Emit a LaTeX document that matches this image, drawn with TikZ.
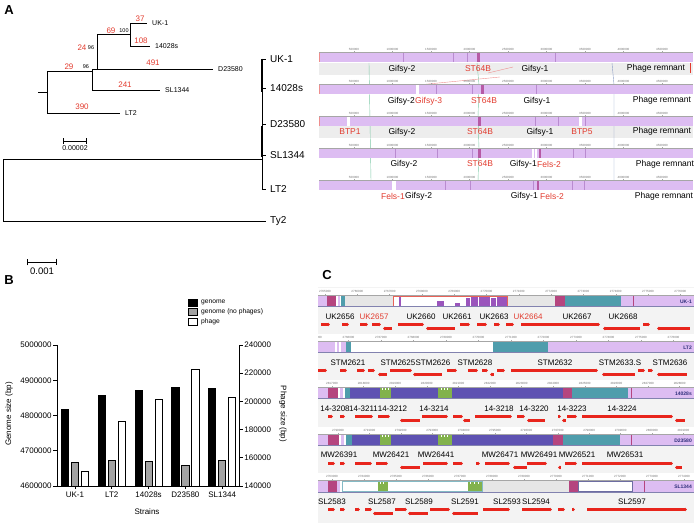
\documentclass[tikz,border=0pt]{standalone}
\usepackage{fontspec}
\setmainfont{Liberation Sans}
\usetikzlibrary{arrows.meta}
\definecolor{redtxt}{HTML}{E23B2E}
\definecolor{lpur}{HTML}{DDBDF2}
\definecolor{dpur}{HTML}{B98BD0}
\definecolor{stblock}{HTML}{B65AA5}
\definecolor{mag}{HTML}{B5457F}
\definecolor{cteal}{HTML}{4F9DAC}
\definecolor{bpur}{HTML}{5E52B2}
\definecolor{cgreen}{HTML}{82B24C}
\definecolor{hpur}{HTML}{9A55BC}
\definecolor{cgrey}{HTML}{E6E6E6}
\definecolor{cbg}{HTML}{F3F3F3}
\definecolor{bandgrey}{HTML}{EDEDED}
\definecolor{generd}{HTML}{E8251C}
\definecolor{navy}{HTML}{2E2E7A}
\definecolor{lcbgreen}{HTML}{7CC8A6}
\definecolor{lcbblue}{HTML}{8A9CC4}
\definecolor{pinkline}{HTML}{EE8E8E}
\definecolor{nophage}{HTML}{A3A3A3}

\begin{document}
\begin{tikzpicture}[
    x=1pt, y=-1pt,
    branch/.style={draw, line width=0.9pt},
    ileaf/.style={anchor=west, inner xsep=5pt, inner ysep=0pt, font=\fontsize{7}{8}\selectfont},
    mleaf/.style={anchor=west, inner xsep=4pt, inner ysep=0pt, font=\fontsize{10}{12}\selectfont},
    blen/.style={text=redtxt, inner sep=0pt, font=\fontsize{8}{9}\selectfont},
    boot/.style={inner sep=0pt, font=\fontsize{5.5}{6}\selectfont},
    panel/.style={inner sep=0pt, font=\fontsize{13}{14}\selectfont\bfseries},
    rulelab/.style={inner sep=0pt, text=black!55, font=\fontsize{3}{3}\selectfont},
    rtick/.style={draw=black!35, line width=0.3pt},
    phage/.style={inner sep=0pt, font=\fontsize{8.5}{9}\selectfont},
    newphage/.style={phage, text=redtxt},
    genelab/.style={inner sep=0pt, font=\fontsize{8}{9}\selectfont},
    fwd/.style={draw=generd, line width=2.2pt, -{Triangle[length=2pt, width=3.4pt]}},
    rev/.style={draw=generd, line width=2.2pt, {Triangle[length=2pt, width=3.4pt]}-},
    strain/.style={anchor=east, inner sep=0pt, text=navy, font=\fontsize{5}{5}\selectfont\bfseries},
    axlab/.style={inner sep=0pt, font=\fontsize{8}{9}\selectfont},
    bar/.style={draw, line width=0.8pt},
    lcb/.style={line width=0.4pt}
]
\useasboundingbox (0,0) rectangle (699,526);

% Panel letters
\node[panel] (pA) at (9,10) {A};
\node[panel] (pB) at (9,280) {B};
\node[panel] (pC) at (327,275) {C};

% Inset tree
\coordinate (i0) at (38,92);
\coordinate (i1) at (47,92);
\coordinate (i2) at (92,71);
\coordinate (i3) at (97,69);
\coordinate (i4) at (130,34);
\node[ileaf] (ilt) at (120,113) {LT2};
\node[ileaf] (isl) at (160,90) {SL1344};
\node[ileaf] (id) at (213,69) {D23580};
\node[ileaf] (iuk) at (147,23) {UK-1};
\node[ileaf] (i14) at (150,46) {14028s};
\draw[branch] (i0) -- (i1);
\draw[branch] (i1) |- (ilt.west);
\draw[branch] (i1) |- (i2);
\draw[branch] (i2) |- (isl.west);
\draw[branch] (i2) |- (i3);
\draw[branch] (i3) -- (id.west);
\draw[branch] (i3) |- (i4);
\draw[branch] (i4) |- (iuk.west);
\draw[branch] (i4) |- (i14.west);
\node[blen] at (140,19) {37};
\node[blen] at (141,41) {108};
\node[blen] at (111,31) {69};
\node[boot] at (124,31) {100};
\node[blen] at (82,48) {24};
\node[boot] at (91,48) {96};
\node[blen] at (153,63) {491};
\node[blen] at (69,67) {29};
\node[boot] at (86,67) {96};
\node[blen] at (125,85) {241};
\node[blen] at (82,107) {390};
\draw[line width=0.7pt, |-|] (63,141) -- (87,141);
\node[inner sep=0pt, font=\fontsize{7}{8}\selectfont] at (75,148) {0.00002};

% Main tree
\coordinate (m0) at (3,190);
\coordinate (m1) at (262,159);
\node[mleaf] (mty) at (266,221) {Ty2};
\node[mleaf] (muk) at (266,59) {UK-1};
\node[mleaf] (m14) at (266,88) {14028s};
\node[mleaf] (md) at (266,124) {D23580};
\node[mleaf] (msl) at (266,155) {SL1344};
\node[mleaf] (mlt) at (266,189) {LT2};
\draw[branch] (m0) |- (mty.west);
\draw[branch] (m0) |- (m1);
\draw[branch] (muk.west -| m1) -- (mlt.west -| m1);
\draw[line width=1.8pt] (262,59) -- (262,92);
\draw[line width=1.8pt] (262,126) -- (262,157);
\foreach \lf in {muk,m14,md,msl,mlt}
    \draw[branch] (\lf.west -| m1) -- (\lf.west);
\draw[line width=0.9pt, |-|] (27,262) -- (57,262);
\node[inner sep=0pt, font=\fontsize{9.5}{10}\selectfont] at (42,271) {0.001};

% Genome tracks
\fill[bandgrey] (319,63) rectangle (693,75);
\fill[bandgrey] (319,126.5) rectangle (693,138.5);
\draw[lcb, lcbgreen] (369,63) -- (371,181);
\draw[lcb, lcbgreen] (477,63) -- (479,85) -- (478,117) -- (479,149) -- (478,181);
\draw[lcb, lcbblue] (612,63) -- (614,85) -- (614,181);
\draw[lcb, pinkline] (418,85) -- (500,77);
\draw[lcb, pinkline] (488,73) -- (513,67);
\foreach \ty in {53,85,117,149,181} {
    \draw[black!35, line width=0.4pt] (319,\ty-0.6) -- (693,\ty-0.6);
    \foreach \k/\lab in {1/500000,2/1000000,3/1500000,4/2000000,5/2500000,6/3000000,7/3500000,8/4000000,9/4500000} {
        \draw[rtick] ({315.5+38.5*\k},\ty-0.6) -- ++(0,-1.5);
        \node[rulelab] at ({315.5+38.5*\k},\ty-4) {\lab};
    }
    \fill[lpur] (319,\ty) rectangle (693,\ty+9.5);
}
% UK-1
\foreach \px in {403,453,467,555} \draw[dpur, line width=0.6pt] (\px,53) -- (\px,62.5);
\fill[stblock] (477,53) rectangle (480,62.5);
\draw[pinkline, line width=0.8pt] (319.4,53) -- (319.4,62.5);
\draw[redtxt, line width=0.6pt] (690,63) -- (690,73);
% 14028s
\fill[white] (416,85) rectangle (419,94.5);
\foreach \px in {436,472,536} \draw[dpur, line width=0.6pt] (\px,85) -- (\px,94.5);
\fill[stblock] (481,85) rectangle (484,94.5);
\draw[pinkline, line width=0.8pt] (319.4,85) -- (319.4,94.5);
% D23580
\fill[white] (347,117) rectangle (350,126.5);
\fill[white] (579,117) rectangle (582,126.5);
\foreach \px in {535,558,585} \draw[dpur, line width=0.6pt] (\px,117) -- (\px,126.5);
\fill[stblock] (478,117) rectangle (481,126.5);
\draw[pinkline, line width=0.8pt] (319.4,117) -- (319.4,126.5);
% SL1344
\foreach \px in {395,437,472,573,585} \draw[dpur, line width=0.6pt] (\px,149) -- (\px,158.5);
\fill[stblock] (478,149) rectangle (481,158.5);
\fill[white] (532,149) rectangle (533.5,158.5);
\fill[white] (535,149) rectangle (536.5,158.5);
\fill[stblock] (539,149) rectangle (541,158.5);
% LT2
\fill[white] (392,181) rectangle (396,190.5);
\foreach \px in {445,470,533,572,584} \draw[dpur, line width=0.6pt] (\px,181) -- (\px,190.5);
\fill[stblock] (537,181) rectangle (539,190.5);

% Phage labels
\node[phage] at (402,69) {Gifsy-2};
\node[newphage] at (478,69) {ST64B};
\node[phage] at (535,69) {Gifsy-1};
\node[phage] at (656,68) {Phage remnant};
\node[phage, anchor=east] at (415,101) {Gifsy-2};
\node[newphage, anchor=west] at (415,101) {Gifsy-3};
\node[newphage] at (484,101) {ST64B};
\node[phage] at (537,101) {Gifsy-1};
\node[phage] at (662,100) {Phage remnant};
\node[newphage] at (350,132) {BTP1};
\node[phage] at (402,132.5) {Gifsy-2};
\node[newphage] at (480,132) {ST64B};
\node[phage] at (540,132) {Gifsy-1};
\node[newphage] at (582,132) {BTP5};
\node[phage] at (662,131.5) {Phage remnant};
\node[phage] at (404,164) {Gifsy-2};
\node[newphage] at (480,164) {ST64B};
\node[phage, anchor=east] at (537,164) {Gifsy-1};
\node[newphage, anchor=west] at (537,164) {Fels-2};
\node[phage] at (665,164) {Phage remnant};
\node[newphage, anchor=east] at (405,196) {Fels-1};
\node[phage, anchor=west] at (405,196) {Gifsy-2};
\node[phage, anchor=east] at (538,196) {Gifsy-1};
\node[newphage, anchor=west] at (540,196) {Fels-2};
\node[phage] at (664,196) {Phage remnant};

% Panel B: genome sizes
\foreach \v/\lab in {0/4600000,1/4700000,2/4800000,3/4900000,4/5000000}
    \draw[line width=0.8pt] (57,{486-35.2*\v}) -- (53,{486-35.2*\v}) node[axlab, anchor=east, xshift=-1pt] {\lab};
\foreach \v/\lab in {0/140000,1/160000,2/180000,3/200000,4/220000,5/240000}
    \draw[line width=0.8pt] (239,{486-28.2*\v}) -- (243,{486-28.2*\v}) node[axlab, anchor=west, xshift=1pt] {\lab};
\foreach \gx/\gs/\ns/\ps/\lab in {75/4819/4667/150.6/UK-1, 111.8/4858/4672/186/LT2, 148.6/4871/4669/201.7/14028s, 185.4/4880/4658/222.8/D23580, 222.2/4878/4672/202.9/SL1344} {
    \draw[bar, fill=black] ({\gx-10-3.6},486) rectangle ({\gx-10+3.6},{486-(\gs-4600)*0.352});
    \draw[bar, fill=nophage] ({\gx-3.6},486) rectangle ({\gx+3.6},{486-(\ns-4600)*0.352});
    \draw[bar, fill=white] ({\gx+10-3.6},486) rectangle ({\gx+10+3.6},{486-(\ps-140)*1.41});
    \draw[line width=0.8pt] (\gx,486) -- (\gx,489);
    \node[axlab] at (\gx,495) {\lab};
}
\draw[line width=0.8pt] (57,345) -- (57,486) -- (239,486) -- (239,345);
\node[axlab, rotate=90] at (9,414) {Genome size (bp)};
\node[axlab, rotate=-90] at (283,414) {Phage size (bp)};
\node[axlab] at (147,512) {Strains};
% Legend
\draw[bar, line width=0.6pt, fill=black] (188,299) rectangle (197,306);
\draw[bar, line width=0.6pt, fill=nophage] (188,308.5) rectangle (197,315.5);
\draw[bar, line width=0.6pt, fill=white] (188,318) rectangle (197,325);
\node[anchor=west, inner sep=0pt, font=\fontsize{6.7}{7}\selectfont] at (201,302.5) {genome};
\node[anchor=west, inner sep=0pt, font=\fontsize{6.7}{7}\selectfont] at (201,312) {genome (no phages)};
\node[anchor=west, inner sep=0pt, font=\fontsize{6.7}{7}\selectfont] at (201,321.5) {phage};

% Panel C: locus alignment
\begin{scope}
\clip (318,287) rectangle (694,523);
\fill[cbg] (318,287) rectangle (694,523);
\foreach \ty in {296,342,388,435,481} {
    \fill[white] (318,\ty-8) rectangle (694,\ty);
    \draw[black!35, line width=0.4pt] (318,\ty-0.5) -- (694,\ty-0.5);
}
% rulers
\foreach \i in {0,...,11} {
    \draw[rtick] ({325+32.3*\i},295.5) -- ++(0,-1.5);
    \node[rulelab] at ({325+32.3*\i},291.5) {\the\numexpr2765+\i\relax000};
    \draw[rtick] ({316+32.5*\i},341.5) -- ++(0,-1.5);
    \node[rulelab] at ({316+32.5*\i},337.5) {\the\numexpr2765+\i\relax000};
    \draw[rtick] ({332+31.6*\i},387.5) -- ++(0,-1.5);
    \node[rulelab] at ({332+31.6*\i},383.5) {\the\numexpr2817+\i\relax000};
    \draw[rtick] ({338+31.4*\i},434.5) -- ++(0,-1.5);
    \node[rulelab] at ({338+31.4*\i},430.5) {\the\numexpr2790+\i\relax000};
    \draw[rtick] ({332+32*\i},480.5) -- ++(0,-1.5);
    \node[rulelab] at ({332+32*\i},476.5) {\the\numexpr2763+\i\relax000};
}
% UK-1 row
\foreach \xa/\xb/\col in {318/327/lpur, 327/336/mag, 336/338/white, 338/340/lpur, 340/341/white, 341/345/cteal, 345/393/cgrey, 393/507/white, 507/555/cgrey, 555/565/mag, 565/621/cteal, 621/694/lpur}
    \fill[\col] (\xa,296) rectangle (\xb,306.5);
\foreach \xa/\xb/\hy in {399/401/296.5, 437/444/301, 455/460/303, 466/470/298, 471/478/297, 479/490/296.5, 491/496/298.5, 497/507/296.5}
    \fill[hpur] (\xa,\hy) rectangle (\xb,306.5);
\draw[redtxt!80, line width=0.6pt] (393,296.3) rectangle (507,306.2);
\draw[mag, line width=0.7pt] (633,296) -- (633,306.5);
\node[strain] at (692,301.5) {UK-1};
% LT2 row
\foreach \xa/\xb/\col in {318/335/lpur, 335/336.5/white, 336.5/339/lpur, 339/341/white, 341/346/lpur, 346/351/cteal, 351/493/white, 493/548/cteal, 548/694/lpur}
    \fill[\col] (\xa,342) rectangle (\xb,352.5);
\node[strain] at (692,347.5) {LT2};
% 14028s row
\foreach \xa/\xb/\col in {318/328/lpur, 328/338/mag, 338/340/white, 340/343/lpur, 343/345/white, 345/350/cteal, 350/380/bpur, 380/391/cgreen, 391/438/bpur, 438/452/cgreen, 452/563/bpur, 563/572/mag, 572/628/cteal, 628/694/lpur}
    \fill[\col] (\xa,388) rectangle (\xb,398.5);
\foreach \px in {382,385,388,441,444,447}
    \fill[white] (\px,388) rectangle (\px+1,390.5);
\draw[mag, line width=0.7pt] (631,388) -- (631,398.5);
\node[strain] at (692,393.5) {14028s};
% D23580 row
\foreach \xa/\xb/\col in {318/328/lpur, 328/339/mag, 339/341/white, 341/344/lpur, 344/346/white, 346/352/cteal, 352/380/bpur, 380/391/cgreen, 391/438/bpur, 438/452/cgreen, 452/553/bpur, 553/563/mag, 563/620/cteal, 620/694/lpur}
    \fill[\col] (\xa,435) rectangle (\xb,445.5);
\foreach \px in {382,385,388,441,444,447}
    \fill[white] (\px,435) rectangle (\px+1,437.5);
\draw[mag, line width=0.7pt] (631,435) -- (631,445.5);
\node[strain] at (692,440.5) {D23580};
% SL1344 row
\foreach \xa/\xb/\col in {318/328/lpur, 328/337/mag, 337/340/lpur, 340/378/white, 378/388/cgreen, 388/468/white, 468/482/cgreen, 482/569/cgrey, 569/578/mag, 578/632/white, 632/694/lpur}
    \fill[\col] (\xa,481) rectangle (\xb,491.5);
\foreach \px in {380,383,470,474,478}
    \fill[white] (\px,481) rectangle (\px+1,483.5);
\draw[cteal!70, line width=0.5pt] (342,481.3) rectangle (482,491.2);
\draw[navy!70, line width=0.5pt] (578,481.3) rectangle (632,491.2);
\draw[mag, line width=0.7pt] (644,481) -- (644,491.5);
\node[strain] at (692,486.5) {SL1344};
\foreach \ty in {296,342,388,435,481}
    \draw[navy!60, line width=0.4pt] (318,\ty+10.7) -- (694,\ty+10.7);

% Gene labels
\foreach \gx/\lab in {340/UK2656, 421/UK2660, 457/UK2661, 494/UK2663, 577/UK2667, 623/UK2668}
    \node[genelab] at (\gx,317) {\lab};
\foreach \gx/\lab in {374/UK2657, 528/UK2664}
    \node[genelab, text=redtxt] at (\gx,317) {\lab};
\foreach \gx/\lab in {348/STM2621, 398/STM2625, 433/STM2626, 475/STM2628, 555/STM2632, 620/STM2633.S, 670/STM2636}
    \node[genelab] at (\gx,363) {\lab};
\foreach \gx/\lab in {335/14-3208, 363.5/14-3211, 392.5/14-3212, 434/14-3214, 499/14-3218, 534/14-3220, 572/14-3223, 622/14-3224}
    \node[genelab] at (\gx,409) {\lab};
\foreach \gx/\lab in {339/MW26391, 391/MW26421, 436/MW26441, 500/MW26471, 539/MW26491, 577/MW26521, 625/MW26531}
    \node[genelab] at (\gx,455) {\lab};
\foreach \gx/\lab in {332/SL2583, 382/SL2587, 419/SL2589, 465/SL2591, 507/SL2593, 536/SL2594, 632/SL2597}
    \node[genelab] at (\gx,502) {\lab};

% Gene arrows
\foreach \xa/\xb in {321/330, 342/349, 360/368, 372/381, 398/424, 460/470, 477/487, 494/500, 506/514, 521/600, 643/650}
    \draw[fwd] (\xa,324.5) -- (\xb,324.5);
\foreach \xa/\xb in {383/392, 426/455, 603/640, 657/690}
    \draw[rev] (\xa,328.5) -- (\xb,328.5);
\foreach \xa/\xb in {318/327, 340/347, 357/365, 368/375, 390/412, 447/457, 468/478, 482/488, 497/505, 511/598, 638/645, 648/653}
    \draw[fwd] (\xa,370.5) -- (\xb,370.5);
\foreach \xa/\xb in {378/387, 413/442, 490/494, 602/635, 657/687}
    \draw[rev] (\xa,374.5) -- (\xb,374.5);
\foreach \xa/\xb in {328/333, 340/345, 355/373, 378/390, 422/448, 453/463, 475/512, 517/525, 558/561, 567/577, 582/673}
    \draw[fwd] (\xa,416.5) -- (\xb,416.5);
\foreach \xa/\xb in {400/420, 463/470, 527/545, 562/566, 675/685}
    \draw[rev] (\xa,420.5) -- (\xb,420.5);
\foreach \xa/\xb in {328/335, 340/345, 355/372, 376/388, 423/448, 453/463, 476/480, 485/510, 527/547, 565/577, 582/673}
    \draw[fwd] (\xa,463.5) -- (\xb,463.5);
\foreach \xa/\xb in {400/420, 513/527, 558/561, 675/682}
    \draw[rev] (\xa,467.5) -- (\xb,467.5);
\foreach \xa/\xb in {328/335, 340/345, 355/360, 365/372, 395/407, 430/450, 483/510, 522/552, 558/565, 572/575, 587/687}
    \draw[fwd] (\xa,509.5) -- (\xb,509.5);
\foreach \xa/\xb in {373/393, 408/428, 452/478}
    \draw[rev] (\xa,513.5) -- (\xb,513.5);
\end{scope}
\end{tikzpicture}
\end{document}
